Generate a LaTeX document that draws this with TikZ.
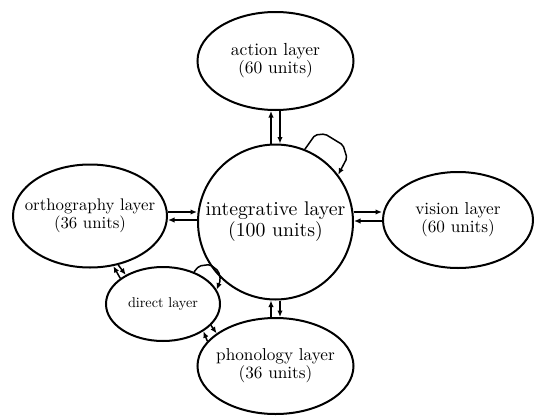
\documentclass[tikz,border=0pt]{standalone}
\usetikzlibrary{shapes.geometric,arrows.meta,calc}
\tikzset{
  layer/.style={draw, ellipse, line width=2pt, inner sep=0pt},
  conn/.style={line width=1.5pt, -{Latex[length=6.5pt,width=5.5pt]}},
  loopconn/.style={line width=1.5pt, rounded corners=2pt, -{Latex[length=6.5pt,width=5.5pt]}}
}
\newcommand{\lyr}[3]{\makebox[0pt][c]{\scalebox{#1}{\def\arraystretch{#2}\begin{tabular}{@{}c@{}}#3\end{tabular}}}}
\begin{document}
\begin{tikzpicture}[x=1pt,y=-1pt]
\fill[white] (0,0) rectangle (536,418);
\useasboundingbox (0,0) rectangle (536,418);
% layers
\node[layer, minimum width=156pt, minimum height=98pt] (action) at (275.5,61) {\lyr{1.75}{0.8}{action layer\\(60 units)}};
\node[layer, circle, minimum size=155pt] (integ) at (275.5,222) {\lyr{1.98}{0.84}{integrative layer\\(100 units)}};
\node[layer, minimum width=150pt, minimum height=96pt] (vision) at (458,220) {\lyr{1.72}{0.8}{vision layer\\(60 units)}};
\node[layer, minimum width=154pt, minimum height=103pt] (ortho) at (90,216) {\lyr{1.68}{0.76}{orthography layer\\(36 units)}};
\node[layer, minimum width=114pt, minimum height=74pt] (direct) at (163,304) {\makebox[0pt][c]{\scalebox{1.42}{direct layer}}};
\node[layer, minimum width=156pt, minimum height=96pt] (phono) at (275.5,366) {\lyr{1.72}{0.76}{phonology layer\\(36 units)}};
% action <-> integrative
\draw[conn] ($(integ.north)+(-4.5,0)$) -- ($(action.south)+(-4.5,0)$);
\draw[conn] ($(action.south)+(4.5,0)$) -- ($(integ.north)+(4.5,0)$);
% phonology <-> integrative
\draw[conn] ($(phono.north)+(-4.5,0)$) -- ($(integ.south)+(-4.5,0)$);
\draw[conn] ($(integ.south)+(4.5,0)$) -- ($(phono.north)+(4.5,0)$);
% orthography <-> integrative
\coordinate (oi1) at ($(ortho.east)+(0,-4)$);
\coordinate (oi2) at ($(ortho.east)+(0,4)$);
\draw[conn] (oi1) -- (integ.west |- oi1);
\draw[conn] (integ.west |- oi2) -- (oi2);
% integrative <-> vision
\coordinate (iv1) at ($(vision.west)+(0,-8)$);
\coordinate (iv2) at ($(vision.west)+(0,1)$);
\draw[conn] (integ.east |- iv1) -- (iv1);
\draw[conn] (iv2) -- (integ.east |- iv2);
% orthography <-> direct
\draw[conn] (ortho.-60.6) -- (direct.142.9);
\draw[conn] (direct.149.2) -- (ortho.-65.8);
% direct <-> phonology
\draw[conn] (direct.-24.1) -- (phono.151.9);
\draw[conn] (phono.160.3) -- (direct.-34.7);
% self loops
\draw[loopconn] (integ.68) -- (315,135) -- (325,134) -- (343,145) -- (347,158) -- (integ.37);
\draw[loopconn] (direct.46) -- (199,266) -- (210,264.5) -- (218.5,271) -- (220.5,280) -- (direct.15);
\end{tikzpicture}
\end{document}
